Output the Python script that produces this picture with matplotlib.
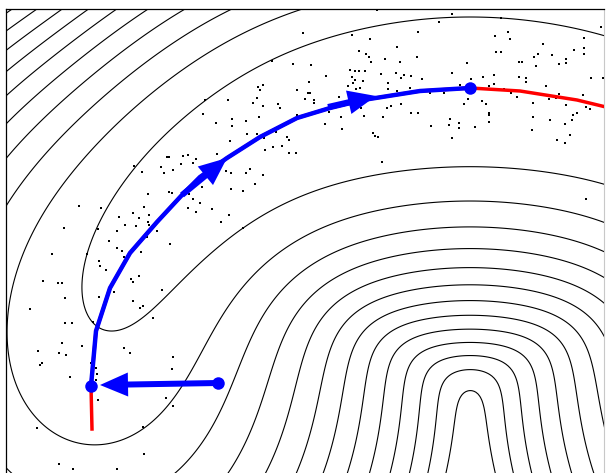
import numpy as np
import matplotlib
matplotlib.use('Agg')
import matplotlib.pyplot as plt

# manifold curve (red), picture units, y grows downwards
curve_x = [92, 91, 96, 110, 130, 157, 182, 200, 227, 260, 297, 330, 363, 420, 470,
           520, 577, 610, 643, 680, 713, 740, 758, 783, 810, 830, 844, 849, 848]
curve_y = [429, 386, 331, 288, 253, 222, 195, 177, 158, 137, 118, 108, 100, 91, 88,
           91, 100, 108, 118, 137, 158, 177, 195, 222, 253, 288, 331, 386, 429]

# optimisation path (blue)
start_x, start_y = 218, 383
path_x = [91, 96, 110, 130, 157, 182, 200, 227, 260, 297, 330, 363, 420, 470]
path_y = [386, 331, 288, 253, 222, 195, 177, 158, 137, 118, 108, 100, 91, 88]

# arrows: (from_x, from_y, to_x, to_y)
arrow_from_x = [218, 182, 328]
arrow_from_y = [383, 195, 107]
arrow_to_x = [100, 227, 376]
arrow_to_y = [385, 158, 96]

# data samples
dot_x = [303, 352, 370, 418, 439, 452, 377, 397, 359, 366, 369, 385, 417, 501, 495, 508, 510, 543, 584, 584,
         584, 574, 601, 496, 501, 538, 552, 534, 566, 400, 371, 311, 467, 519, 522, 559, 566, 536, 272, 293,
         591, 603, 350, 355, 359, 365, 352, 355, 363, 348, 353, 356, 360, 326, 309, 308, 310, 305, 314, 314,
         339, 381, 396, 401, 404, 411, 422, 452, 388, 388, 397, 410, 430, 444, 460, 471, 483, 494, 489, 494,
         519, 526, 526, 546, 504, 511, 517, 549, 556, 559, 583, 586, 590, 577, 573, 572, 566, 533, 533, 550,
         565, 532, 570, 557, 565, 468, 464, 482, 486, 489, 489, 489, 475, 459, 459, 450, 449, 452, 431, 418,
         411, 401, 391, 387, 383, 364, 361, 341, 329, 325, 342, 373, 375, 378, 382, 586,
         258, 263, 260, 257, 297, 205, 228, 253, 263, 203, 232, 232, 246, 216, 259, 278, 280, 297, 247, 257,
         264, 276, 287, 289,
         282, 273, 265, 289, 296, 230, 217, 167, 169, 183, 188, 196, 193, 181, 134, 161, 142, 164, 173, 226,
         231, 246, 250, 263, 255, 243, 231, 211, 202, 189, 193, 169, 172, 148, 200, 188, 196, 212, 229, 221,
         243, 144, 133, 149, 139, 119, 125, 136, 148, 149, 117, 101, 79, 98, 64, 157, 147, 109, 117,
         52, 87, 99, 100, 106, 122, 124, 141, 170, 43, 58, 62, 65, 30, 65, 72, 93, 99, 114, 131,
         133, 139, 133, 140, 143, 153, 162, 62, 59, 66, 38, 82, 124, 130, 173, 42, 40, 70, 91, 96,
         97, 96, 98, 172, 166, 173, 37, 143, 144, 59, 73, 117]
dot_y = [33, 35, 39, 32, 22, 14, 10, 47, 51, 54, 57, 59, 57, 18, 36, 32, 39, 44, 38, 48,
         54, 50, 27, 52, 52, 54, 55, 57, 59, 62, 62, 65, 63, 62, 62, 64, 63, 66, 61, 64,
         78, 78, 70, 71, 71, 71, 77, 80, 81, 86, 83, 89, 88, 76, 82, 93, 93, 99, 100, 103,
         97, 74, 73, 78, 75, 76, 79, 73, 83, 89, 91, 88, 93, 93, 85, 79, 77, 75, 86, 84,
         77, 82, 78, 86, 89, 93, 97, 99, 98, 94, 95, 107, 109, 113, 115, 120, 105, 103, 117, 120,
         124, 130, 135, 140, 143, 99, 104, 101, 104, 113, 115, 122, 127, 123, 128, 119, 125, 138, 126, 113,
         113, 104, 106, 108, 117, 116, 108, 117, 112, 124, 129, 133, 136, 137, 162, 199,
         87, 85, 90, 98, 90, 100, 100, 103, 106, 114, 119, 126, 121, 123, 117, 104, 108, 115, 134, 134,
         138, 132, 137, 140,
         146, 147, 150, 153, 153, 141, 154, 157, 157, 156, 155, 159, 163, 164, 166, 167, 172, 173, 170, 171,
         173, 173, 169, 175, 184, 191, 189, 179, 187, 194, 199, 192, 193, 194, 203, 208, 212, 209, 215, 222,
         228, 207, 213, 215, 218, 217, 225, 226, 222, 225, 231, 208, 206, 229, 228, 231, 237, 241, 248,
         254, 254, 261, 266, 270, 251, 257, 252, 244, 281, 283, 283, 298, 309, 323, 323, 322, 297, 292, 279,
         282, 276, 301, 308, 306, 318, 290, 343, 353, 355, 351, 346, 348, 353, 357, 363, 365, 377, 363, 368,
         374, 380, 400, 369, 398, 406, 428, 427, 454, 464, 469, 469]

# noise is flat near the apex and widens towards the ends of the curve
SIGMA_APEX = 56.0
SIGMA_END = 80.0
PRIOR_LEN = 330.0


def neg_log_density(xx, yy):
    # noisy-manifold model: gaussian noise around the curve, gaussian prior along it
    cx = np.asarray(curve_x, float)
    cy = np.asarray(curve_y, float)
    s = np.concatenate([[0], np.cumsum(np.hypot(np.diff(cx), np.diff(cy)))])
    t = np.arange(0, s[-1] + 1e-9, 3.0)
    px = np.interp(t, s, cx)
    py = np.interp(t, s, cy)
    apex = s[np.argmin(cy)]
    u = np.abs(t - apex) / (s[-1] - apex)
    sig = SIGMA_APEX + (SIGMA_END - SIGMA_APEX) * np.clip((u - 0.55) / 0.45, 0, 1)
    w = np.exp(-0.5 * ((t - apex) / PRIOR_LEN) ** 2)
    p = np.zeros_like(xx, dtype=float)
    for a, b, wi, si in zip(px, py, w, sig):
        p += wi * np.exp(-((xx - a) ** 2 + (yy - b) ** 2) / (2 * si ** 2))
    return -np.log(p)


X, Y = np.meshgrid(np.arange(0, 614, 2.0), np.arange(0, 486, 2.0))
F = neg_log_density(X, Y)
F = F - neg_log_density(np.array([470.0]), np.array([17.0]))[0] + 1.0

fig = plt.figure(figsize=(6.06, 4.73), dpi=100)
ax = fig.add_axes([6 / 606, -7 / 473, 598 / 606, 471 / 473])

ax.contour(X, Y, F, levels=np.arange(1, 40), colors='k', linewidths=0.8)
ax.scatter(dot_x, dot_y, s=3, c='k', marker='s', linewidths=0, zorder=3)
ax.plot(curve_x, curve_y, color='red', lw=2.5, zorder=4)
ax.plot(path_x, path_y, color='blue', lw=3.2, zorder=5)
for x0, y0, x1, y1 in zip(arrow_from_x, arrow_from_y, arrow_to_x, arrow_to_y):
    ax.arrow(x0, y0, x1 - x0, y1 - y0, width=6, head_width=24, head_length=28,
             length_includes_head=True, fc='blue', ec='none', zorder=6)
ax.plot([start_x, path_x[0], path_x[-1]], [start_y, path_y[0], path_y[-1]], 'o',
        color='blue', ms=9, mec='none', zorder=7)

ax.set_xlim(6, 604)
ax.set_ylim(480, 9)
ax.set_xticks([])
ax.set_yticks([])
for side in ['left', 'top']:
    ax.spines[side].set_linewidth(0.9)
ax.spines['right'].set_color('#c8c8c8')

fig.savefig('out.png', dpi=100)
